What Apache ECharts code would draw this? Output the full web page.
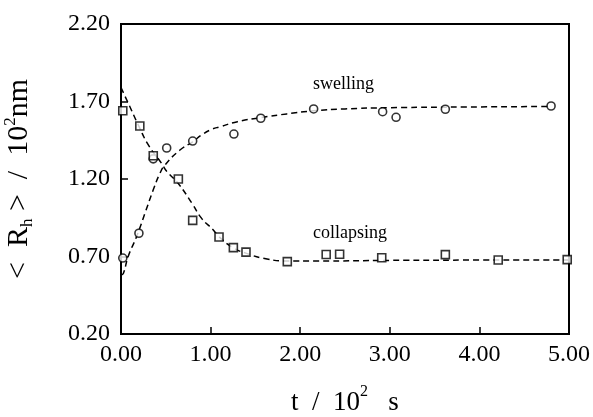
<!DOCTYPE html>
<html>
<head>
<meta charset="utf-8">
<script src="https://cdn.jsdelivr.net/npm/echarts@6/dist/echarts.min.js"></script>
<style>
html,body{margin:0;padding:0;background:#fff;}
#c{width:593px;height:417px;}
</style>
</head>
<body>
<div id="c"></div>
<script>
// Measured data points (t / 10^2 s, <Rh> / 10^2 nm)
var swellingPoints = [[0.02,0.69],[0.20,0.85],[0.36,1.33],[0.51,1.40],[0.80,1.445],[1.26,1.49],[1.56,1.592],[2.15,1.652],[2.92,1.634],[3.07,1.598],[3.62,1.65],[4.80,1.671]];
var collapsingPoints = [[0.02,1.64],[0.21,1.542],[0.36,1.35],[0.64,1.20],[0.80,0.933],[1.094,0.826],[1.254,0.757],[1.395,0.728],[1.856,0.667],[2.29,0.713],[2.44,0.715],[2.91,0.692],[3.62,0.712],[4.21,0.677],[4.98,0.68]];
// Dashed fit curves
var swellingFit = [[0,0.58],[0.026,0.59],[0.08,0.70],[0.175,0.83],[0.268,0.98],[0.36,1.13],[0.435,1.237],[0.49,1.29],[0.658,1.387],[0.8,1.44],[0.9,1.484],[1.012,1.52],[1.105,1.537],[1.3,1.57],[1.55,1.595],[1.85,1.62],[2.15,1.64],[2.5,1.652],[3,1.66],[4,1.665],[4.8,1.668]];
var collapsingFit = [[0,1.79],[0.08,1.69],[0.2,1.54],[0.305,1.42],[0.454,1.30],[0.51,1.25],[0.64,1.17],[0.79,1.045],[0.9,0.946],[1.03,0.871],[1.09,0.83],[1.25,0.757],[1.4,0.72],[1.63,0.684],[1.85,0.671],[2.2,0.671],[3,0.675],[4,0.677],[5,0.678]];
var xTicks = [0,1,2,3,4,5];
var yTicks = [0.2,0.7,1.2,1.7,2.2];

var FONT = '"Liberation Serif","DejaVu Serif",serif';
var chart = echarts.init(document.getElementById('c'));
var markerStyle = {color:'#fff', borderColor:'#000', borderWidth:1.6};
var dash = {color:'#000', width:1.5, type:[6,4]};

chart.setOption({
  animation:false,
  backgroundColor:'#fff',
  grid:{left:121, right:24, top:24, bottom:83, containLabel:false, outerBoundsMode:'none',
        show:true, borderColor:'#000', borderWidth:2, backgroundColor:'transparent'},
  xAxis:{
    type:'value', min:xTicks[0], max:xTicks[xTicks.length-1], interval:1,
    axisLine:{lineStyle:{color:'#000', width:2}},
    axisTick:{inside:true, length:7, lineStyle:{color:'#000', width:1.5}},
    splitLine:{show:false},
    axisLabel:{formatter:function(v){return v.toFixed(2);}, color:'#000', fontFamily:FONT, fontSize:24, margin:9},
    name:'{a|t  /  10}{sup|2}{a|   s}', nameLocation:'middle', nameGap:50,
    nameTextStyle:{color:'#000', fontFamily:FONT, rich:{
      a:{fontFamily:FONT, fontSize:27, color:'#000', lineHeight:32, verticalAlign:'bottom'},
      sup:{fontFamily:FONT, fontSize:16, color:'#000', lineHeight:32, verticalAlign:'top'}
    }}
  },
  yAxis:{
    type:'value', min:yTicks[0], max:yTicks[yTicks.length-1], interval:0.5,
    axisLine:{lineStyle:{color:'#000', width:2}},
    axisTick:{inside:true, length:7, lineStyle:{color:'#000', width:1.5}},
    splitLine:{show:false},
    axisLabel:{formatter:function(v){return v.toFixed(2);}, color:'#000', fontFamily:FONT, fontSize:24, margin:11},
    name:'{a|<  R}{sub|h}{a| >  /  10}{sup|2}{a|nm}', nameLocation:'middle', nameGap:85, nameRotate:90,
    nameTextStyle:{color:'#000', fontFamily:FONT, rich:{
      a:{fontFamily:FONT, fontSize:30, color:'#000', lineHeight:34, verticalAlign:'middle'},
      sub:{fontFamily:FONT, fontSize:17, color:'#000', lineHeight:34, verticalAlign:'bottom'},
      sup:{fontFamily:FONT, fontSize:17, color:'#000', lineHeight:34, verticalAlign:'top'}
    }}
  },
  graphic:[
    {type:'text', left:313, top:75, style:{text:'swelling', font:'18px "Liberation Serif"', fill:'#000'}},
    {type:'text', left:313, top:224, style:{text:'collapsing', font:'18px "Liberation Serif"', fill:'#000'}}
  ],
  series:[
    {type:'line', data:swellingFit, smooth:true, showSymbol:false, symbol:'none', lineStyle:dash, z:2},
    {type:'line', data:collapsingFit, smooth:true, showSymbol:false, symbol:'none', lineStyle:dash, z:2},
    {type:'scatter', data:swellingPoints, symbol:'circle', symbolSize:8, itemStyle:markerStyle, z:3},
    {type:'scatter', data:collapsingPoints, symbol:'rect', symbolSize:8, itemStyle:markerStyle, z:3}
  ]
});
</script>
</body>
</html>
